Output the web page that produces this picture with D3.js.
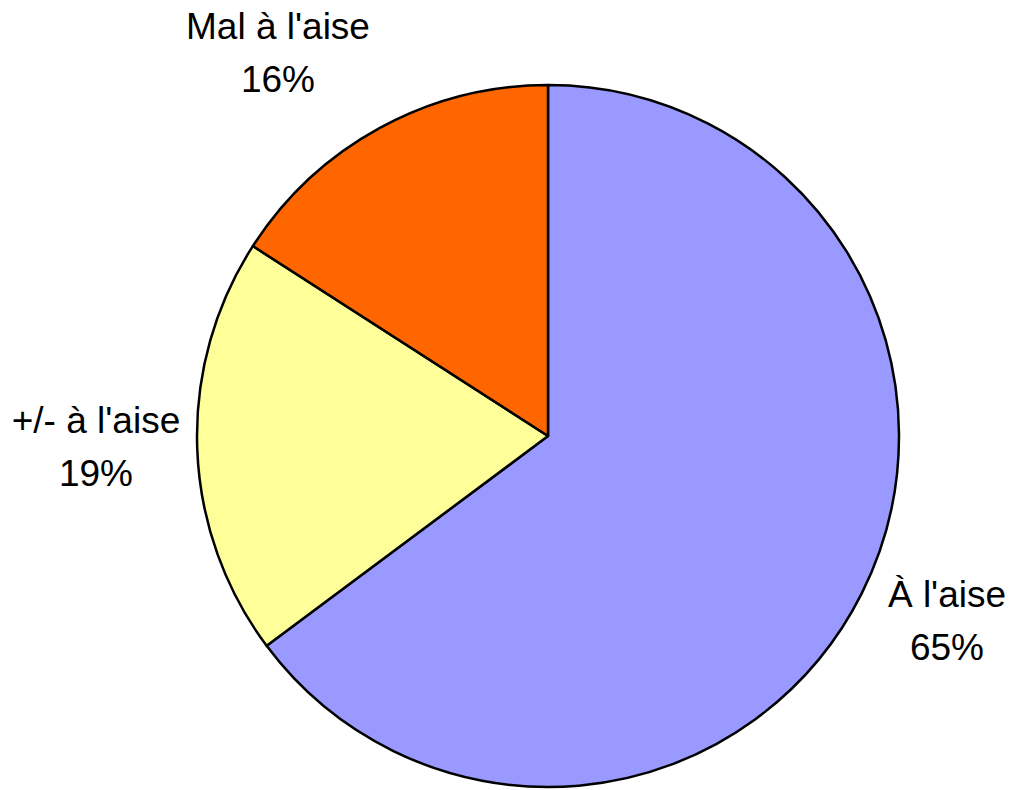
<!DOCTYPE html>
<html>
<head>
<meta charset="utf-8">
<script src="https://cdn.jsdelivr.net/npm/d3@7"></script>
<style>
  body { margin: 0; background: #fff; }
  svg text { font-family: "Liberation Sans", Arial, sans-serif; }
</style>
</head>
<body>
<svg width="1013" height="790"></svg>
<script>
// donnees du graphique
var categories = ["À l'aise", "+/- à l'aise", "Mal à l'aise"];
var valeurs = [64.8, 19.3, 15.9];
var couleurs = ["#9999FF", "#FFFF99", "#FF6600"];
// position des etiquettes (centre du texte, ligne de base 1re ligne)
var etiquettesX = [947, 96, 278];
var etiquettesY = [607, 433, 39];

var svg = d3.select("svg"),
    cx = 548,
    cy = 436,
    radius = 351;

var g = svg.append("g").attr("transform", "translate(" + cx + "," + cy + ")");

var data = categories.map(function(c, i) { return {name: c, share: valeurs[i]}; });

var color = d3.scaleOrdinal().domain(categories).range(couleurs);

var pie = d3.pie().sort(null).value(function(d) { return d.share; });

var path = d3.arc().outerRadius(radius).innerRadius(0);

g.selectAll(".slice")
  .data(pie(data))
  .enter().append("path")
  .attr("class", "slice")
  .attr("d", path)
  .attr("fill", function(d) { return color(d.data.name); })
  .attr("stroke", "#000")
  .attr("stroke-width", 2.5)
  .attr("stroke-linejoin", "round");

var lab = svg.selectAll(".lab")
  .data(data)
  .enter().append("text")
  .attr("class", "lab")
  .attr("text-anchor", "middle")
  .style("font-size", "37px")
  .attr("fill", "#000");

lab.append("tspan")
  .attr("x", function(d, i) { return etiquettesX[i]; })
  .attr("y", function(d, i) { return etiquettesY[i]; })
  .text(function(d) { return d.name; });

lab.append("tspan")
  .attr("x", function(d, i) { return etiquettesX[i]; })
  .attr("y", function(d, i) { return etiquettesY[i] + 53; })
  .text(function(d) { return Math.round(d.share) + "%"; });
</script>
</body>
</html>
